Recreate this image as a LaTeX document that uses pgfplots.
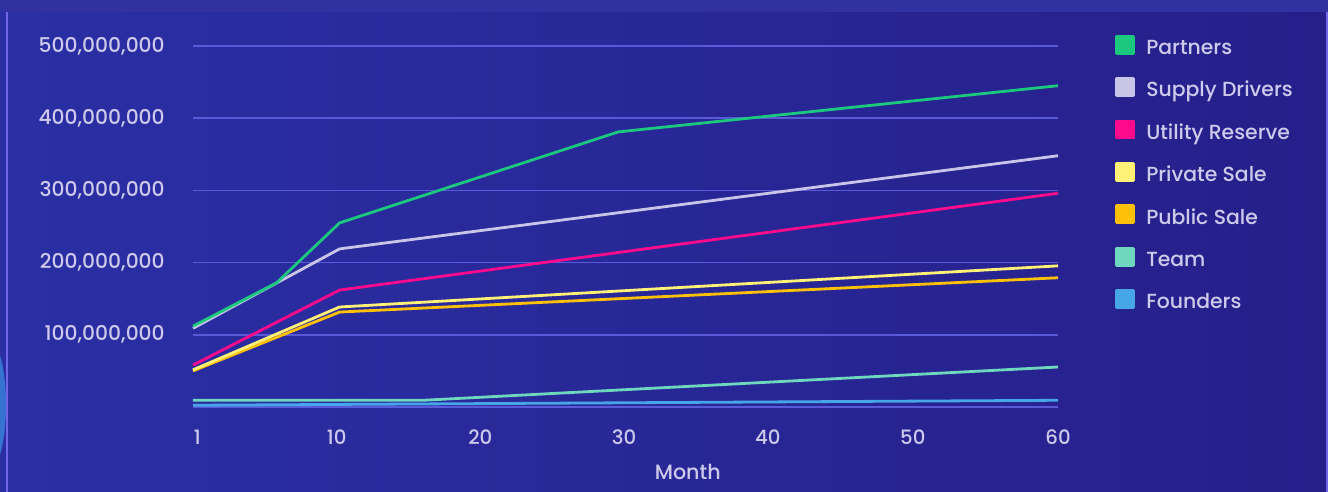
\documentclass[border=0pt]{standalone}
\usepackage{pgfplots}
\pgfplotsset{compat=1.18}
\usepackage{fontspec}
\setmainfont{Poppins}[UprightFont=* Medium]
\definecolor{bgL}{HTML}{2A2FA4}
\definecolor{bgR}{HTML}{261F8A}
\definecolor{topband}{HTML}{3131A2}
\definecolor{edge}{HTML}{6F66E6}
\definecolor{glow}{HTML}{3C8FE6}
\definecolor{gridc}{HTML}{5A5AD8}
\definecolor{txt}{HTML}{CDCAEC}
\definecolor{cPartners}{HTML}{1CC87E}
\definecolor{cSupply}{HTML}{C9C5E9}
\definecolor{cUtility}{HTML}{FF0A8C}
\definecolor{cPrivate}{HTML}{FFF176}
\definecolor{cPublic}{HTML}{FFC107}
\definecolor{cTeam}{HTML}{6ED8BE}
\definecolor{cFounders}{HTML}{46A6E8}
\begin{document}
\begin{tikzpicture}[x=0.75pt,y=0.75pt]
\useasboundingbox (0,0) rectangle (1328,492);
\shade[left color=bgL, right color=bgR] (0,0) rectangle (1328,492);
\fill[topband] (0,480) rectangle (1328,492);
\begin{scope}
\clip (0,0) rectangle (7,480);
\fill[glow, opacity=0.7] (-14,87) ellipse (20 and 70);
\end{scope}
\draw[edge, line width=0.9pt] (7,0) -- (7,480);
\draw[edge, line width=0.9pt] (1327,0) -- (1327,480);
\begin{axis}[
  at={(144.75pt,63.75pt)}, anchor=south west,
  scale only axis, width=648.75pt, height=270.75pt,
  xmin=1, xmax=60, ymin=0, ymax=500,
  axis line style={draw=none},
  major tick length=0pt,
  ytick={0,100,200,300,400,500},
  yticklabels={{},{100,000,000},{200,000,000},{300,000,000},{400,000,000},{500,000,000}},
  xtick={1.3,10.8,20.6,30.4,40.2,50.1,60},
  xticklabels={1,10,20,30,40,50,60},
  ymajorgrids,
  grid style={gridc, line width=1.1pt},
  /pgf/number format/assume math mode=true,
  ticklabel style={text=txt, inner sep=0pt},
  yticklabel style={font=\fontsize{15.2}{17}\selectfont, anchor=east, xshift=-21pt},
  xticklabel style={font=\fontsize{14.8}{17}\selectfont, anchor=north, yshift=-17pt},
  xlabel={Month},
  xlabel style={at={(0.572,-0.18)}, anchor=center, font=\fontsize{15.5}{17}\selectfont, text=txt},
  clip=false,
  reverse legend,
  legend cell align=left,
  legend style={at={(1.0615,1.0392)}, anchor=north west, draw=none, fill=none,
    font=\fontsize{15.3}{17}\selectfont, text=txt, row sep=16.95pt,
    nodes={inner sep=0pt, text height=10pt, text depth=0pt},
    /tikz/every odd column/.append style={column sep=8.25pt}},
  legend image code/.code={\fill[#1] (0pt,-4pt) rectangle (12.75pt,8.75pt);},
  every axis plot/.append style={line width=2.1pt, line join=round},
]
\addplot[cFounders] coordinates {(1,2.4) (60,9.3)};
\addlegendentry{Founders}
\addplot[cTeam] coordinates {(1,9.3) (16.7,9.3) (60,55.4)};
\addlegendentry{Team}
\addplot[cPublic] coordinates {(1,50) (11,131.5) (60,179)};
\addlegendentry{Public Sale}
\addplot[cPrivate] coordinates {(1,51.5) (11,138.5) (60,195.5)};
\addlegendentry{Private Sale}
\addplot[cUtility] coordinates {(1,58) (11,162) (60,296)};
\addlegendentry{Utility Reserve}
\addplot[cSupply] coordinates {(1,109) (11,219) (60,348)};
\addlegendentry{Supply Drivers}
\addplot[cPartners] coordinates {(1,112) (6.7,172) (11,255) (30,381) (60,445)};
\addlegendentry{Partners}
\end{axis}
\end{tikzpicture}
\end{document}
